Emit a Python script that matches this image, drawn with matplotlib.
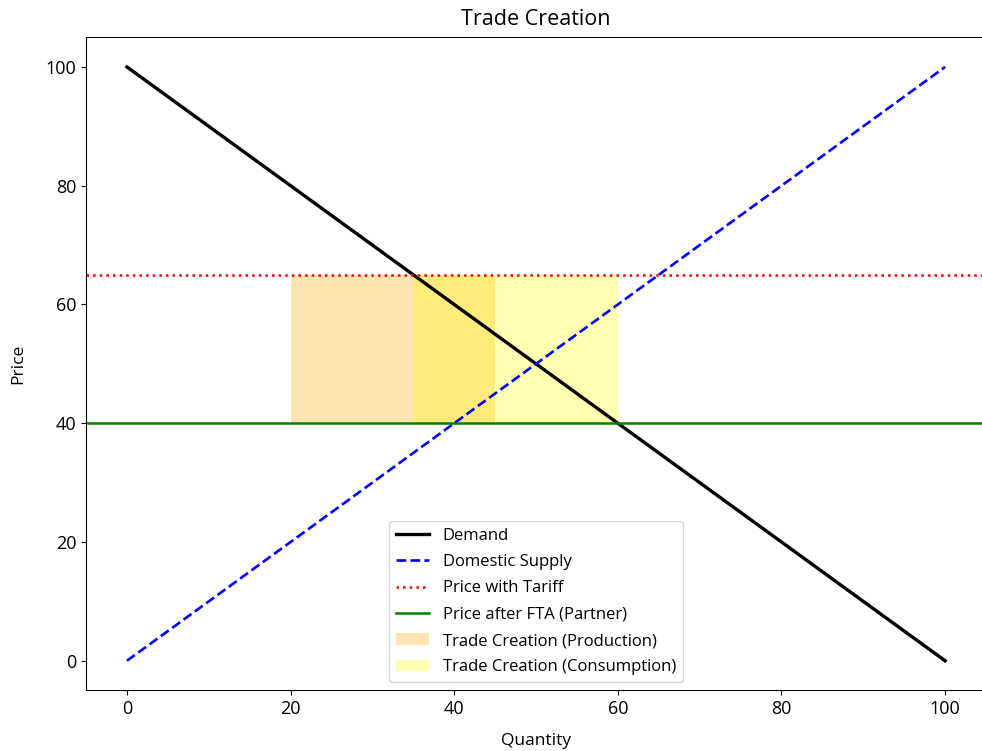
import matplotlib.pyplot as plt

plt.rcParams['font.family'] = ['Open Sans', 'DejaVu Sans']

quantity = [0, 100]
demand_price = [100, 0]
supply_price = [0, 100]
tariff_price = 65
fta_price = 40
production_x = [20, 45]
consumption_x = [35, 60]

fig = plt.figure(figsize=(9.82, 7.51), dpi=100)
ax = fig.add_axes([0.0876, 0.0806, 0.9165, 0.8698])

ax.plot(quantity, demand_price, color="black", linewidth=2.4, label="Demand")
ax.plot(quantity, supply_price, color="blue", linestyle="--", linewidth=1.9, label="Domestic Supply")
ax.axhline(tariff_price, color="red", linestyle=":", linewidth=1.8, label="Price with Tariff")
ax.axhline(fta_price, color="green", linewidth=1.8, label="Price after FTA (Partner)")
ax.fill_between(production_x, fta_price, tariff_price, color="orange", alpha=0.3,
                linewidth=0, label="Trade Creation (Production)")
ax.fill_between(consumption_x, fta_price, tariff_price, color="yellow", alpha=0.3,
                linewidth=0, label="Trade Creation (Consumption)")

ax.set_xlim(-5, 105)
ax.set_ylim(-5, 105)
ax.tick_params(labelsize=13)
ax.set_xlabel("Quantity", fontsize=12.5, labelpad=11)
ax.set_ylabel("Price", fontsize=12.5, labelpad=14)
ax.set_title("Trade Creation", fontsize=15.5, pad=9)
ax.legend(loc="lower center", fontsize=12, borderaxespad=0.5, labelspacing=0.62)

fig.savefig("out.png", dpi=100)
